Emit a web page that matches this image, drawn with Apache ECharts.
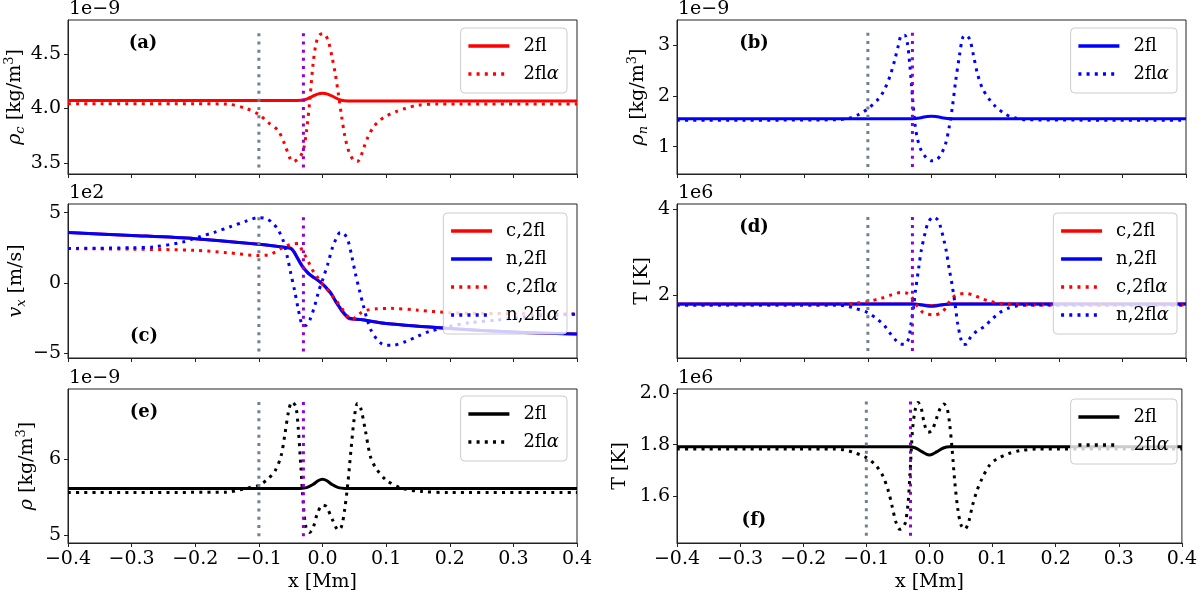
<!DOCTYPE html>
<html>
<head>
<meta charset="utf-8">
<script src="https://cdn.jsdelivr.net/npm/echarts@6/dist/echarts.min.js"></script>
<style>html,body{margin:0;padding:0;background:#fff}#c{width:1200px;height:595px}</style>
</head>
<body>
<div id="c"></div>
<script>
// ---------- tick labels ----------
const xTicks = [-0.4, -0.3, -0.2, -0.1, 0.0, 0.1, 0.2, 0.3, 0.4];
const yTicksA = [3.5, 4.0, 4.5];
const yTicksB = [1, 2, 3];
const yTicksC = [-5, 0, 5];
const yTicksD = [2, 4];
const yTicksE = [5, 6];
const yTicksF = [1.6, 1.8, 2.0];

// marker x positions (vertical dotted lines)
const vlineX = [-0.1, -0.03];

// ---------- (a) rho_c, units 1e-9 ----------
const aSolidX = [-0.4, -0.2, -0.1, -0.04, -0.028, -0.018, -0.008, 0, 0.008, 0.018, 0.028, 0.04, 0.1, 0.2, 0.4];
const aSolidY = [4.072, 4.072, 4.072, 4.073, 4.08, 4.105, 4.132, 4.14, 4.132, 4.105, 4.078, 4.068, 4.068, 4.068, 4.068];
const aDotX = [-0.4, -0.2, -0.15, -0.12, -0.1, -0.085, -0.07, -0.06, -0.05, -0.045, -0.04, -0.035, -0.03, -0.025, -0.02, -0.015, -0.01, -0.005, 0, 0.005, 0.01, 0.015, 0.02, 0.025, 0.03, 0.035, 0.04, 0.045, 0.05, 0.055, 0.06, 0.065, 0.07, 0.08, 0.09, 0.1, 0.115, 0.13, 0.15, 0.18, 0.4];
const aDotY = [4.043, 4.043, 4.04, 4.0, 3.945, 3.87, 3.8, 3.68, 3.53, 3.515, 3.53, 3.56, 3.62, 3.8, 4.07, 4.4, 4.6, 4.67, 4.685, 4.67, 4.6, 4.47, 4.32, 4.13, 3.93, 3.75, 3.63, 3.56, 3.52, 3.515, 3.56, 3.64, 3.72, 3.83, 3.89, 3.93, 3.97, 4.0, 4.03, 4.04, 4.04];

// ---------- (b) rho_n, units 1e-9 ----------
const bSolidX = [-0.4, -0.1, -0.035, -0.025, -0.015, -0.007, 0, 0.007, 0.015, 0.025, 0.035, 0.1, 0.4];
const bSolidY = [1.55, 1.55, 1.55, 1.555, 1.575, 1.595, 1.6, 1.595, 1.575, 1.555, 1.55, 1.55, 1.55];
const bDotX = [-0.4, -0.15, -0.13, -0.115, -0.1, -0.085, -0.075, -0.065, -0.058, -0.052, -0.047, -0.042, -0.038, -0.034, -0.03, -0.026, -0.022, -0.016, -0.008, 0, 0.008, 0.015, 0.022, 0.028, 0.033, 0.038, 0.044, 0.049, 0.054, 0.06, 0.066, 0.072, 0.08, 0.09, 0.1, 0.115, 0.13, 0.15, 0.4];
const bDotY = [1.52, 1.53, 1.56, 1.63, 1.75, 1.92, 2.1, 2.4, 2.7, 3.0, 3.2, 3.2, 3.05, 2.6, 2.0, 1.45, 1.15, 0.92, 0.78, 0.72, 0.74, 0.85, 1.05, 1.4, 1.8, 2.3, 2.8, 3.15, 3.2, 3.12, 2.8, 2.45, 2.15, 1.95, 1.8, 1.65, 1.57, 1.53, 1.52];

// ---------- (c) v_x, units 1e2 ----------
const cSolidX = [-0.4, -0.3, -0.2, -0.1, -0.056, -0.05, -0.045, -0.04, -0.035, -0.03, -0.025, -0.02, -0.015, -0.01, -0.005, 0, 0.005, 0.01, 0.015, 0.02, 0.025, 0.03, 0.035, 0.04, 0.045, 0.06, 0.1, 0.2, 0.3, 0.4];
const cSolidNY = [3.58, 3.38, 3.15, 2.75, 2.51, 2.45, 2.2, 1.8, 1.4, 1.05, 0.8, 0.58, 0.42, 0.27, 0.1, -0.08, -0.3, -0.55, -0.85, -1.25, -1.6, -1.95, -2.22, -2.45, -2.55, -2.62, -2.9, -3.25, -3.5, -3.65];
const cSolidCY = [3.58, 3.38, 3.15, 2.75, 2.52, 2.47, 2.25, 1.85, 1.45, 1.1, 0.83, 0.6, 0.43, 0.28, 0.1, -0.1, -0.33, -0.6, -0.9, -1.3, -1.65, -2.0, -2.27, -2.5, -2.58, -2.62, -2.9, -3.25, -3.5, -3.65];
const cDotCX = [-0.4, -0.3, -0.2, -0.15, -0.1, -0.085, -0.074, -0.065, -0.056, -0.045, -0.038, -0.032, -0.026, -0.02, -0.014, -0.008, 0, 0.008, 0.016, 0.022, 0.03, 0.04, 0.046, 0.052, 0.06, 0.07, 0.085, 0.107, 0.15, 0.2, 0.3, 0.4];
const cDotCY = [2.44, 2.4, 2.32, 2.15, 1.95, 2.0, 2.2, 2.45, 2.65, 2.78, 2.8, 2.3, 1.85, 1.3, 0.78, 0.4, -0.1, -0.5, -0.95, -1.3, -1.8, -2.4, -2.62, -2.45, -2.15, -1.95, -1.85, -1.82, -1.95, -2.13, -2.2, -2.23];
const cDotNX = [-0.4, -0.3, -0.266, -0.22, -0.194, -0.17, -0.146, -0.12, -0.1, -0.09, -0.08, -0.07, -0.062, -0.055, -0.05, -0.044, -0.038, -0.032, -0.027, -0.02, -0.012, -0.006, 0, 0.008, 0.016, 0.022, 0.028, 0.034, 0.04, 0.046, 0.052, 0.058, 0.064, 0.07, 0.076, 0.085, 0.093, 0.1, 0.11, 0.13, 0.15, 0.167, 0.197, 0.23, 0.275, 0.33, 0.4];
const cDotNY = [2.45, 2.5, 2.56, 2.9, 3.27, 3.6, 3.98, 4.4, 4.65, 4.6, 4.34, 3.8, 3.03, 1.8, 0.7, -0.52, -1.9, -3.0, -3.05, -2.65, -1.6, -0.6, 0.19, 1.3, 2.56, 3.2, 3.6, 3.5, 3.03, 1.9, 0.6, -0.52, -1.6, -2.6, -3.36, -4.0, -4.35, -4.45, -4.45, -4.2, -3.8, -3.48, -3.13, -2.85, -2.65, -2.4, -2.23];

// ---------- (d) T, units 1e6 ----------
const dSolidX = [-0.4, -0.1, -0.03, -0.02, -0.01, 0, 0.01, 0.02, 0.03, 0.1, 0.4];
const dSolidNY = [1.8, 1.8, 1.8, 1.79, 1.765, 1.75, 1.765, 1.79, 1.8, 1.8, 1.8];
const dSolidCY = [1.8, 1.8, 1.8, 1.792, 1.772, 1.76, 1.772, 1.792, 1.8, 1.8, 1.8];
const dDotCX = [-0.4, -0.15, -0.12, -0.1, -0.08, -0.062, -0.047, -0.038, -0.032, -0.027, -0.022, -0.013, 0.005, 0.017, 0.024, 0.029, 0.035, 0.041, 0.053, 0.065, 0.077, 0.09, 0.107, 0.13, 0.16, 0.4];
const dDotCY = [1.78, 1.78, 1.82, 1.86, 1.93, 2.02, 2.07, 2.05, 1.98, 1.86, 1.75, 1.6, 1.55, 1.62, 1.75, 1.88, 1.97, 2.02, 2.05, 2.01, 1.94, 1.87, 1.82, 1.79, 1.78, 1.78];
const dDotNX = [-0.4, -0.15, -0.135, -0.122, -0.1, -0.085, -0.074, -0.065, -0.056, -0.048, -0.042, -0.036, -0.032, -0.028, -0.025, -0.02, -0.016, -0.01, -0.005, 0.003, 0.01, 0.014, 0.02, 0.023, 0.028, 0.032, 0.037, 0.041, 0.046, 0.05, 0.056, 0.062, 0.072, 0.083, 0.095, 0.107, 0.12, 0.132, 0.15, 0.4];
const dDotNY = [1.78, 1.78, 1.76, 1.71, 1.6, 1.45, 1.3, 1.12, 0.96, 0.87, 0.87, 1.0, 1.36, 1.75, 2.13, 2.65, 3.05, 3.45, 3.7, 3.82, 3.75, 3.6, 3.25, 3.05, 2.6, 2.28, 1.8, 1.36, 1.0, 0.86, 0.88, 1.05, 1.18, 1.28, 1.45, 1.6, 1.7, 1.75, 1.78, 1.78];

// ---------- (e) rho, units 1e-9 ----------
const eSolidX = [-0.4, -0.1, -0.035, -0.025, -0.015, -0.007, 0, 0.007, 0.015, 0.025, 0.035, 0.1, 0.4];
const eSolidY = [5.62, 5.62, 5.62, 5.63, 5.67, 5.72, 5.74, 5.72, 5.67, 5.63, 5.62, 5.62, 5.62];
const eDotX = [-0.4, -0.15, -0.13, -0.115, -0.1, -0.085, -0.074, -0.065, -0.059, -0.053, -0.048, -0.042, -0.038, -0.034, -0.03, -0.026, -0.02, -0.014, -0.008, 0, 0.006, 0.016, 0.025, 0.03, 0.035, 0.04, 0.045, 0.05, 0.055, 0.06, 0.067, 0.075, 0.083, 0.1, 0.125, 0.155, 0.2, 0.4];
const eDotY = [5.565, 5.57, 5.6, 5.63, 5.66, 5.75, 5.86, 6.05, 6.34, 6.65, 6.76, 6.7, 6.4, 5.9, 5.4, 5.11, 5.04, 5.12, 5.29, 5.4, 5.38, 5.2, 5.07, 5.12, 5.35, 5.7, 6.15, 6.55, 6.74, 6.68, 6.4, 6.05, 5.9, 5.73, 5.62, 5.58, 5.565, 5.565];

// ---------- (f) T, units 1e6 ----------
const fSolidX = [-0.4, -0.1, -0.032, -0.022, -0.012, -0.005, 0, 0.005, 0.012, 0.022, 0.032, 0.1, 0.4];
const fSolidY = [1.792, 1.792, 1.792, 1.787, 1.773, 1.763, 1.76, 1.763, 1.773, 1.787, 1.792, 1.792, 1.792];
const fDotX = [-0.4, -0.15, -0.135, -0.12, -0.1, -0.085, -0.074, -0.065, -0.059, -0.053, -0.047, -0.042, -0.038, -0.034, -0.031, -0.027, -0.023, -0.018, -0.013, -0.008, -0.002, 0.004, 0.011, 0.017, 0.023, 0.028, 0.032, 0.036, 0.04, 0.045, 0.05, 0.056, 0.062, 0.068, 0.075, 0.083, 0.095, 0.107, 0.125, 0.144, 0.17, 0.4];
const fDotY = [1.783, 1.783, 1.78, 1.77, 1.75, 1.72, 1.68, 1.62, 1.56, 1.5, 1.473, 1.48, 1.5, 1.57, 1.68, 1.85, 1.93, 1.963, 1.94, 1.88, 1.848, 1.855, 1.9, 1.94, 1.957, 1.94, 1.88, 1.78, 1.66, 1.55, 1.49, 1.473, 1.5, 1.563, 1.62, 1.667, 1.72, 1.745, 1.765, 1.777, 1.783, 1.783];

// vertical marker line extents per panel
const vlineA = [3.46, 4.70];
const vlineB = [0.60, 3.25];
const vlineC = [-4.9, 4.74];
const vlineD = [0.71, 3.84];
const vlineE = [4.99, 6.76];
const vlineF = [1.448, 1.97];

// ---------------------------------------------------------------
const FONT = 'DejaVu Serif';
const RED = '#ff0000', BLUE = '#0000ff', BLACK = '#000000';
const GRAY = '#708090', PURPLE = '#9400d3';
const DOT = [3, 5.2];

const zip = (xs, ys) => xs.map((x, i) => [x, ys[i]]);
const fmtNum = (d) => (v) => {
  const s = Math.abs(v).toFixed(d);
  return (v < -1e-9 ? '\u2212' : '') + s;
};

const GL = [68, 677];
const GT = [20, 204, 389];
const GW = 509, GH = 154;

const panels = [
  { id: 'a', col: 0, row: 0, ymin: 3.40, ymax: 4.81, yt: yTicksA, dec: 1, off: '1e\u22129',
    name: '{i|ρ}{sub|c} [kg/m{sup|3}]', nameGap: 35, vl: vlineA, legRight: 633, legTop: 28 },
  { id: 'b', col: 1, row: 0, ymin: 0.46, ymax: 3.50, yt: yTicksB, dec: 0, off: '1e\u22129',
    name: '{i|ρ}{sub|n} [kg/m{sup|3}]', nameGap: 27, vl: vlineB, legRight: 23, legTop: 28 },
  { id: 'c', col: 0, row: 1, ymin: -5.36, ymax: 5.62, yt: yTicksC, dec: 0, off: '1e2',
    name: '{i|v}{sub|x} [m/s]', nameGap: 40, vl: vlineC, legRight: 633, legTop: 213 },
  { id: 'd', col: 1, row: 1, ymin: 0.55, ymax: 4.12, yt: yTicksD, dec: 0, off: '1e6',
    name: 'T [K]', nameGap: 25, vl: vlineD, legRight: 23, legTop: 213 },
  { id: 'e', col: 0, row: 2, ymin: 4.90, ymax: 6.93, yt: yTicksE, dec: 0, off: '1e\u22129',
    name: '{i|ρ} [kg/m{sup|3}]', nameGap: 29, vl: vlineE, legRight: 633, legTop: 396 },
  { id: 'f', col: 1, row: 2, ymin: 1.42, ymax: 2.015, yt: yTicksF, dec: 1, off: '1e6',
    name: 'T [K]', nameGap: 47, vl: vlineF, legRight: 23, legTop: 399 }
];

const seriesDefs = {
  a: [ ['2fl', RED, 'solid', aSolidX, aSolidY], ['2flα', RED, DOT, aDotX, aDotY] ],
  b: [ ['2fl', BLUE, 'solid', bSolidX, bSolidY], ['2flα', BLUE, DOT, bDotX, bDotY] ],
  c: [ ['c,2fl', RED, 'solid', cSolidX, cSolidCY], ['n,2fl', BLUE, 'solid', cSolidX, cSolidNY],
       ['c,2flα', RED, DOT, cDotCX, cDotCY], ['n,2flα', BLUE, DOT, cDotNX, cDotNY] ],
  d: [ ['c,2fl', RED, 'solid', dSolidX, dSolidCY], ['n,2fl', BLUE, 'solid', dSolidX, dSolidNY],
       ['c,2flα', RED, DOT, dDotCX, dDotCY], ['n,2flα', BLUE, DOT, dDotNX, dDotNY] ],
  e: [ ['2fl', BLACK, 'solid', eSolidX, eSolidY], ['2flα', BLACK, DOT, eDotX, eDotY] ],
  f: [ ['2fl', BLACK, 'solid', fSolidX, fSolidY], ['2flα', BLACK, DOT, fDotX, fDotY] ]
};

const grid = [], xAxis = [], yAxis = [], series = [], legend = [], graphic = [];
const nameRich = {
  i: { fontFamily: FONT, fontSize: 19, fontStyle: 'italic', lineHeight: 24, verticalAlign: 'middle' },
  sub: { fontFamily: FONT, fontSize: 13, fontStyle: 'italic', lineHeight: 13, verticalAlign: 'bottom' },
  sup: { fontFamily: FONT, fontSize: 13, lineHeight: 13, verticalAlign: 'top' }
};

panels.forEach((p, gi) => {
  grid.push({ left: GL[p.col], top: GT[p.row], width: GW, height: GH,
    show: true, borderColor: '#222', borderWidth: 1, backgroundColor: 'transparent' });
  const bottom = p.row === 2;
  xAxis.push({
    type: 'value', gridIndex: gi, min: -0.4, max: 0.4,
    axisLine: { show: true, onZero: false, lineStyle: { color: '#222', width: 1 } },
    axisTick: { show: true, inside: false, length: 4, customValues: xTicks, lineStyle: { color: '#222' } },
    axisLabel: { show: bottom, customValues: xTicks, formatter: fmtNum(1), fontFamily: FONT, fontSize: 19, color: '#000', margin: 7 },
    splitLine: { show: false },
    name: bottom ? 'x [Mm]' : '', nameLocation: 'middle', nameGap: 30,
    nameTextStyle: { fontFamily: FONT, fontSize: 19, color: '#000' }
  });
  yAxis.push({
    type: 'value', gridIndex: gi, min: p.ymin, max: p.ymax,
    axisLine: { show: true, onZero: false, lineStyle: { color: '#222', width: 1 } },
    axisTick: { show: true, inside: false, length: 4, customValues: p.yt, lineStyle: { color: '#222' } },
    axisLabel: { show: true, customValues: p.yt, formatter: fmtNum(p.dec), fontFamily: FONT, fontSize: 19, color: '#000', margin: 7 },
    splitLine: { show: false },
    name: p.name, nameLocation: 'middle', nameRotate: 90, nameGap: p.nameGap,
    nameTextStyle: { fontFamily: FONT, fontSize: 19, color: '#000', rich: nameRich }
  });
  const names = [];
  seriesDefs[p.id].forEach(([nm, color, type, xs, ys]) => {
    const sname = p.id + '|' + nm;
    names.push(sname);
    series.push({
      type: 'line', name: sname, xAxisIndex: gi, yAxisIndex: gi,
      data: zip(xs, ys), showSymbol: false, symbol: 'none', smooth: 0.3,
      lineStyle: { color: color, width: 3, type: type, cap: 'butt' },
      itemStyle: { color: color }, silent: true, z: 3
    });
  });
  vlineX.forEach((vx, k) => {
    series.push({
      type: 'line', name: p.id + '|vline' + k, xAxisIndex: gi, yAxisIndex: gi,
      data: [[vx, p.vl[0]], [vx, p.vl[1]]], showSymbol: false, symbol: 'none',
      lineStyle: { color: k === 0 ? GRAY : PURPLE, width: 3, type: [3, 5.2], cap: 'butt' },
      silent: true, z: 4
    });
  });
  legend.push({
    data: names, orient: 'vertical', right: p.legRight, top: p.legTop,
    itemWidth: 41, itemHeight: 14, itemGap: 8,
    padding: [8, 8, 9, 6], backgroundColor: 'rgba(255,255,255,0.8)',
    borderColor: '#cccccc', borderWidth: 1, borderRadius: 4,
    selectedMode: false,
    itemStyle: { opacity: 0, borderWidth: 0 },
    lineStyle: { width: 3.5 },
    formatter: (n) => {
      const t = n.split('|')[1];
      if (t.endsWith('α')) return '{t|' + t.slice(0, -1) + '}{a|α}';
      return '{t|' + t + '}';
    },
    textStyle: {
      fontFamily: FONT, fontSize: 18, color: '#000', lineHeight: 20,
      rich: {
        t: { fontFamily: FONT, fontSize: 18, color: '#000', padding: [0, 0, 0, 9], lineHeight: 20 },
        a: { fontFamily: FONT, fontSize: 18, color: '#000', fontStyle: 'italic', lineHeight: 20 }
      }
    }
  });
  // offset text
  graphic.push({ type: 'text', left: GL[p.col] + 1, top: GT[p.row] - 20, silent: true,
    style: { text: p.off, font: '19px "DejaVu Serif"', fill: '#000' } });
  // panel label
  const lblPos = { a: [143, 43], b: [754, 43], c: [144, 336], d: [754, 227], e: [144, 412], f: [754, 520] }[p.id];
  graphic.push({ type: 'text', x: lblPos[0], y: lblPos[1], silent: true,
    style: { text: '(' + p.id + ')', font: 'bold 18px "DejaVu Serif"', fill: '#000', align: 'center', verticalAlign: 'middle' } });
});

const chart = echarts.init(document.getElementById('c'), null, { renderer: 'canvas' });
chart.setOption({
  animation: false,
  backgroundColor: '#ffffff',
  tooltip: { show: false },
  grid, xAxis, yAxis, series, legend, graphic
});
</script>
</body>
</html>
